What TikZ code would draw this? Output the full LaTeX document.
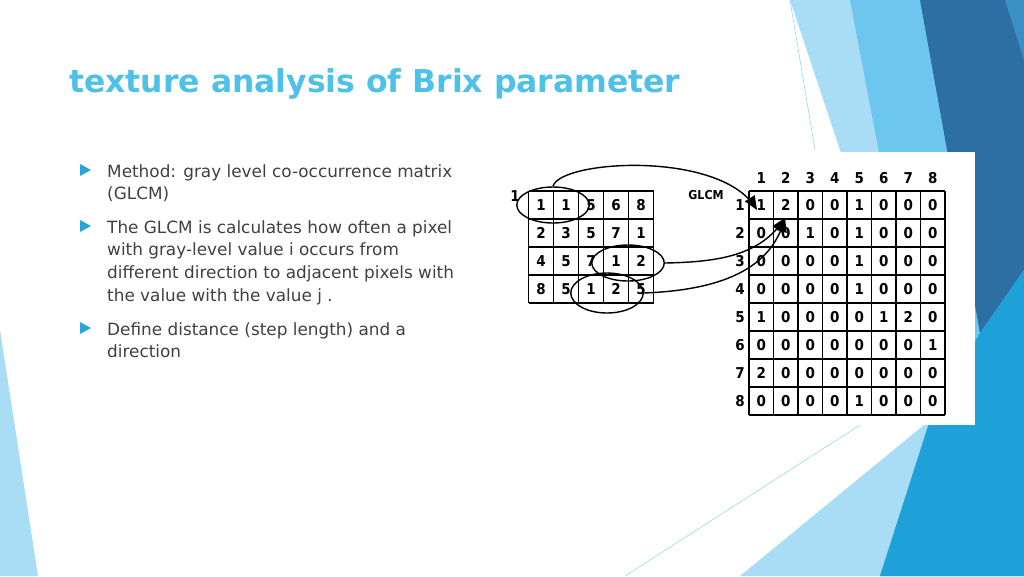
\documentclass[tikz,border=0pt]{standalone}
\usepackage{fontspec}
\setmainfont{DejaVu Sans}
\setsansfont{DejaVu Sans Condensed}
\usetikzlibrary{positioning,shapes,arrows,calc}
\definecolor{titleblue}{HTML}{4FC1E9}
\definecolor{deepblue}{HTML}{2D6FA3}
\definecolor{midblue}{HTML}{3A8FC4}
\definecolor{skyblue}{HTML}{6CC6EE}
\definecolor{paleblue}{HTML}{A8DDF5}
\definecolor{brightblue}{HTML}{1EA0D8}
\definecolor{bulletblue}{HTML}{2BA3DB}
\hyphenpenalty=10000
\begin{document}
\begin{tikzpicture}
  [
    x=0.02cm, y=-0.02cm,
    cell/.style={draw=none,font=\sffamily\bfseries\fontsize{8.5}{9}\selectfont, inner sep=0pt},
    bodytext/.style={anchor=north west, align=left, font=\fontsize{9.6}{13}\selectfont, text=black!75},
    ring/.style={draw, thick, ellipse, inner sep=0pt, minimum width=1.45cm, minimum height=0.72cm},
  ]
  \useasboundingbox (0,0) rectangle (1024,576);

  % background
  \fill[paleblue] (790,0) -- (1024,0) -- (1024,576) -- (740,576) -- (930,420) -- cycle;
  \fill[skyblue] (850,0) -- (1024,0) -- (1024,576) -- (880,576) -- (930,420) -- cycle;
  \fill[deepblue] (920,0) -- (1024,0) -- (1024,270) -- (980,333) -- cycle;
  \fill[midblue] (1005,0) -- (1024,0) -- (1024,60) -- cycle;
  \fill[brightblue] (980,333) -- (1024,270) -- (1024,576) -- (880,576) -- (930,420) -- cycle;
  \fill[paleblue] (0,330) -- (38,576) -- (0,576) -- cycle;
  \draw[skyblue, very thin] (790,0) -- (815,150);
  \draw[skyblue, very thin] (625,576) -- (860,425);

  % title and text
  \node[anchor=base west, text=titleblue, font=\bfseries\fontsize{17.9}{20}\selectfont] (title) at (63,92) {texture analysis of Brix parameter};
  \foreach \yy in {170,226,328}
    \fill[bulletblue] (80,\yy-6) -- (91,\yy) -- (80,\yy+6) -- cycle;
  \node[bodytext] (t1) at (101,158) {Method: gray level co-occurrence matrix\\(GLCM)};
  \node[bodytext] (t2) at (101,214) {The GLCM is calculates how often a pixel\\with gray-level value i occurs from\\different direction to adjacent pixels with\\the value with the value j .};
  \node[bodytext] (t3) at (101,316) {Define distance (step length) and a\\direction};

  % picture
  \fill[white] (500,152) rectangle (975,425);
  \foreach \row [count=\r] in {{1,1,5,6,8},{2,3,5,7,1},{4,5,7,1,2},{8,5,1,2,5}}
    \foreach \v [count=\c] in \row
      \node[cell] (img-\r-\c) at (516+\c*25,177+\r*28) {\v};
  \foreach \i in {0,...,5}
    \draw[thick] (528.5+\i*25,191) -- (528.5+\i*25,303);
  \foreach \i in {0,...,4}
    \draw[thick] (528.5,191+\i*28) -- (653.5,191+\i*28);
  \node[cell] (imglabel) at (515,196) {1};

  \foreach \row [count=\r] in {{1,2,0,0,1,0,0,0},{0,0,1,0,1,0,0,0},{0,0,0,0,1,0,0,0},{0,0,0,0,1,0,0,0},{1,0,0,0,0,1,2,0},{0,0,0,0,0,0,0,1},{2,0,0,0,0,0,0,0},{0,0,0,0,1,0,0,0}}
    {
    \foreach \v [count=\c] in \row
      \node[cell] (glcm-\r-\c) at (736.75+\c*24.5,177+\r*28) {\v};
    \node[cell] (row-\r) at (740,177+\r*28) {\r};
    \node[cell] (col-\r) at (736.75+\r*24.5,178) {\r};
    }
  \foreach \i in {0,...,8}
    {
    \draw[thick] (749+\i*24.5,191) -- (749+\i*24.5,415);
    \draw[thick] (749,191+\i*28) -- (945,191+\i*28);
    }
  \node[cell, font=\sffamily\bfseries\fontsize{7}{7}\selectfont] (glcmlabel) at (706,195) {GLCM};

  \node[ring] (pair1) at (553,205) {};
  \node[ring] (pair2) at (628,263) {};
  \node[ring, minimum height=0.8cm] (pair3) at (607,293) {};
  \coordinate (tip1) at (757,210);
  \coordinate (tip2) at (785,218);

  \draw[thick, -triangle 45] (pair1.north) .. controls (560,160) and (720,150) .. (tip1);
  \draw[thick, -triangle 45] (pair2.east) .. controls (720,262) and (760,255) .. (tip2);
  \draw[thick, -triangle 45] (pair3.east) .. controls (720,290) and (770,270) .. (tip2);
\end{tikzpicture}
\end{document}
